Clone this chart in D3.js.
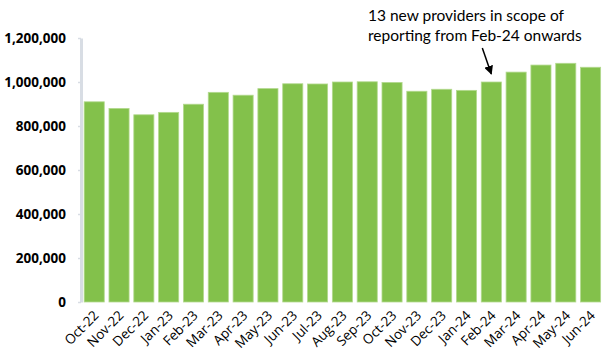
<!DOCTYPE html>
<html>
<head>
<meta charset="utf-8">
<script src="https://cdn.jsdelivr.net/npm/d3@7"></script>
<style>
  body { margin: 0; background: #fff; }
  svg { display: block; }
</style>
</head>
<body>
<div id="chart"></div>
<script>
// monthly totals
var months = ["Oct-22", "Nov-22", "Dec-22", "Jan-23", "Feb-23", "Mar-23", "Apr-23",
    "May-23", "Jun-23", "Jul-23", "Aug-23", "Sep-23", "Oct-23", "Nov-23", "Dec-23",
    "Jan-24", "Feb-24", "Mar-24", "Apr-24", "May-24", "Jun-24"];
var counts = [910000, 880000, 851000, 862000, 899000, 953000, 940000,
    970000, 992000, 991000, 1000000, 1001000, 998000, 958000, 967000,
    962000, 1000000, 1045000, 1077000, 1085000, 1067000];
var yTicks = [0, 200000, 400000, 600000, 800000, 1000000, 1200000];
var noteLines = ["13 new providers in scope of", "reporting from Feb-24 onwards"];
var noteMonth = "Feb-24";

var width = 611, height = 364;

var svg = d3.select("#chart").append("svg")
    .attr("width", width)
    .attr("height", height);

var x = d3.scaleBand()
    .domain(months)
    .range([81.8, 603])
    .paddingInner(0.19)
    .paddingOuter(0.095);

var y = d3.scaleLinear()
    .domain([0, 1200000])
    .range([302, 38]);

// y axis
var yAxis = svg.append("g")
    .attr("transform", "translate(81,0)")
    .call(d3.axisLeft(y).tickValues(yTicks).tickFormat(d3.format(","))
        .tickSize(3).tickSizeOuter(0).tickPadding(12));
yAxis.select(".domain")
    .attr("stroke", "#d8dde4")
    .attr("stroke-width", 3);
yAxis.selectAll(".tick line")
    .attr("stroke", "#d8dde4")
    .attr("stroke-width", 1.5);
yAxis.selectAll(".tick text")
    .attr("fill", "#000")
    .style("font-family", "'Open Sans', sans-serif")
    .style("font-size", "13.5px")
    .style("font-weight", "bold");

// bars
svg.append("g").selectAll("rect")
    .data(months)
    .enter()
    .append("rect")
    .attr("x", function(d) { return x(d); })
    .attr("width", x.bandwidth())
    .attr("y", function(d, i) { return y(counts[i]); })
    .attr("height", function(d, i) { return y(0) - y(counts[i]); })
    .attr("fill", "#83c14b")
    .attr("stroke", "#b3d98f")
    .attr("stroke-width", 0.8);

// x labels, rotated
svg.append("g").selectAll("text")
    .data(months)
    .enter()
    .append("text")
    .attr("transform", function(d) {
        return "translate(" + (x(d) + x.bandwidth() / 2 + 2) + ",313) rotate(-45)";
    })
    .attr("text-anchor", "end")
    .attr("dy", "0.35em")
    .style("font-family", "'Open Sans', sans-serif")
    .style("font-size", "13.5px")
    .attr("fill", "#000")
    .text(function(d) { return d; });

// annotation
svg.append("defs").append("marker")
    .attr("id", "arrowhead")
    .attr("viewBox", "0 0 10 10")
    .attr("refX", 9)
    .attr("refY", 5)
    .attr("markerWidth", 6)
    .attr("markerHeight", 6)
    .attr("orient", "auto")
    .append("path")
    .attr("d", "M 0 0 L 10 5 L 0 10 z")
    .attr("fill", "#000");

var note = svg.append("text")
    .attr("x", 368)
    .attr("y", 21)
    .style("font-family", "Lato, sans-serif")
    .style("font-size", "15.5px")
    .attr("fill", "#000");
note.selectAll("tspan")
    .data(noteLines)
    .enter()
    .append("tspan")
    .attr("x", 368)
    .attr("dy", function(d, i) { return i === 0 ? 0 : 19.5; })
    .text(function(d) { return d; });

var tipX = x(noteMonth) + x.bandwidth() / 2;
svg.append("line")
    .attr("x1", tipX - 9)
    .attr("y1", 48)
    .attr("x2", tipX)
    .attr("y2", 74)
    .attr("stroke", "#000")
    .attr("stroke-width", 1.5)
    .attr("marker-end", "url(#arrowhead)");
</script>
</body>
</html>
